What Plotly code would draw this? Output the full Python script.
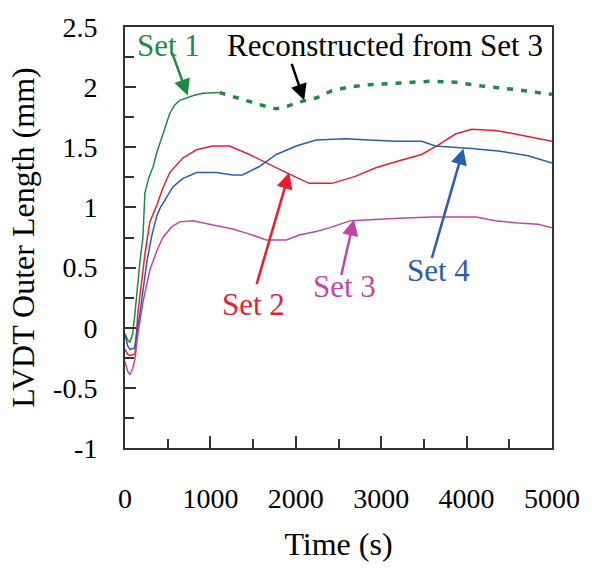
import plotly.graph_objects as go

# ---------------- data ----------------
set1_t = [0, 30, 58, 90, 117, 145, 175, 210, 233, 280, 330, 370, 408, 470, 524, 580, 641, 722, 800, 910, 1000, 1107]
set1_v = [-0.05, -0.10, -0.12, -0.05, 0.12, 0.35, 0.55, 0.75, 1.12, 1.25, 1.34, 1.45, 1.53, 1.68, 1.78, 1.85, 1.89, 1.91, 1.93, 1.95, 1.955, 1.955]

recon_t = [1107, 1224, 1350, 1492, 1650, 1772, 1900, 2005, 2238, 2424, 2622, 2855, 3170, 3400, 3600, 3870, 4173, 4569, 4800, 5000]
recon_v = [1.955, 1.93, 1.90, 1.87, 1.84, 1.82, 1.84, 1.87, 1.91, 1.97, 2.00, 2.02, 2.03, 2.04, 2.05, 2.04, 2.01, 1.98, 1.96, 1.94]

set2_t = [0, 30, 60, 117, 150, 198, 233, 291, 373, 443, 524, 676, 839, 1026, 1224, 1457, 1655, 1888, 2156, 2424, 2704, 2937, 3170, 3473, 3671, 3870, 4056, 4336, 4569, 4837, 5000]
set2_v = [-0.18, -0.22, -0.23, -0.22, 0.12, 0.39, 0.61, 0.88, 1.02, 1.16, 1.29, 1.41, 1.48, 1.51, 1.51, 1.44, 1.37, 1.29, 1.20, 1.20, 1.26, 1.33, 1.38, 1.44, 1.52, 1.61, 1.65, 1.64, 1.61, 1.57, 1.55]

set3_t = [0, 30, 58, 90, 117, 150, 210, 291, 373, 443, 548, 641, 793, 932, 1107, 1259, 1450, 1655, 1888, 2040, 2238, 2389, 2645, 2900, 3205, 3600, 4114, 4336, 4600, 4837, 5000]
set3_v = [-0.28, -0.36, -0.39, -0.34, -0.26, -0.06, 0.21, 0.48, 0.64, 0.75, 0.84, 0.88, 0.89, 0.87, 0.84, 0.82, 0.78, 0.73, 0.73, 0.77, 0.80, 0.83, 0.89, 0.90, 0.91, 0.92, 0.92, 0.89, 0.87, 0.86, 0.83]

set4_t = [0, 30, 60, 110, 175, 210, 256, 315, 373, 408, 490, 560, 676, 839, 1072, 1259, 1375, 1573, 1772, 2005, 2238, 2587, 2855, 3170, 3473, 3636, 4056, 4371, 4720, 5000]
set4_v = [-0.05, -0.15, -0.18, -0.17, 0.12, 0.31, 0.55, 0.77, 0.93, 0.99, 1.09, 1.17, 1.24, 1.29, 1.29, 1.27, 1.27, 1.34, 1.44, 1.51, 1.56, 1.57, 1.56, 1.55, 1.55, 1.51, 1.49, 1.47, 1.43, 1.37]

x_ticks = [0, 1000, 2000, 3000, 4000, 5000]
y_ticks = [-1, -0.5, 0, 0.5, 1, 1.5, 2, 2.5]
y_tick_labels = ["-1", "-0.5", "0", "0.5", "1", "1.5", "2", "2.5"]

GREEN = "#1f8a45"
RED = "#ec1c2e"
BLUE = "#2b5cae"
MAGENTA = "#c146aa"
FONT = "Liberation Serif"

fig = go.Figure()
fig.add_trace(go.Scatter(x=set1_t, y=set1_v, mode="lines", line=dict(color=GREEN, width=1.5)))
fig.add_trace(go.Scatter(x=recon_t, y=recon_v, mode="lines", line=dict(color=GREEN, width=3.5, dash="6px,8px")))
fig.add_trace(go.Scatter(x=set2_t, y=set2_v, mode="lines", line=dict(color=RED, width=1.5)))
fig.add_trace(go.Scatter(x=set3_t, y=set3_v, mode="lines", line=dict(color=MAGENTA, width=1.5)))
fig.add_trace(go.Scatter(x=set4_t, y=set4_v, mode="lines", line=dict(color=BLUE, width=1.5)))

# text labels
labels = [
    ("Set 1", 513, 2.345, GREEN),
    ("Reconstructed from Set 3", 3042, 2.345, "black"),
    ("Set 2", 1503, 0.19, RED),
    ("Set 3", 2576, 0.343, MAGENTA),
    ("Set 4", 3671, 0.473, BLUE),
]
for txt, x, y, c in labels:
    fig.add_annotation(x=x, y=y, text=txt, showarrow=False,
                       font=dict(family=FONT, size=31, color=c))

# arrows (head at data point, tail offset in pixels)
arrows = [
    (734, 1.93, -16, -44, GREEN),
    (2098, 1.89, -13, -38, "black"),
    (1923, 1.29, -33, 113, RED),
    (2681, 0.90, -13, 57, MAGENTA),
    (3963, 1.49, -32, 111, BLUE),
]
for x, y, ax, ay, c in arrows:
    fig.add_annotation(x=x, y=y, ax=ax, ay=ay, text="", showarrow=True,
                       arrowhead=2, arrowsize=1.3, arrowwidth=2.5, arrowcolor=c)

axis_common = dict(showline=True, linecolor="#333333", linewidth=2, mirror=True,
                   showgrid=False, zeroline=False, ticks="inside",
                   tickcolor="#333333", tickwidth=1.5,
                   tickfont=dict(family=FONT, size=28, color="black"))

fig.update_xaxes(range=[0, 5000], tickvals=x_ticks, ticklen=12, ticklabelstandoff=24,
                 minor=dict(dtick=500, ticks="inside", ticklen=9, tickcolor="#333333", tickwidth=1.5),
                 title=dict(text="Time (s)", font=dict(family=FONT, size=32, color="black"), standoff=20),
                 **axis_common)
fig.update_yaxes(range=[-1, 2.5], tickvals=y_ticks, ticktext=y_tick_labels, ticklen=11, ticklabelstandoff=20,
                 minor=dict(dtick=0.25, ticks="inside", ticklen=9, tickcolor="#333333", tickwidth=1.5),
                 title=dict(text="LVDT Outer Length (mm)", font=dict(family=FONT, size=32, color="black"), standoff=9),
                 **axis_common)

fig.update_layout(width=592, height=571, showlegend=False,
                  plot_bgcolor="white", paper_bgcolor="white",
                  margin=dict(l=125, r=38, t=18, b=123))

fig.write_html("out.html")
